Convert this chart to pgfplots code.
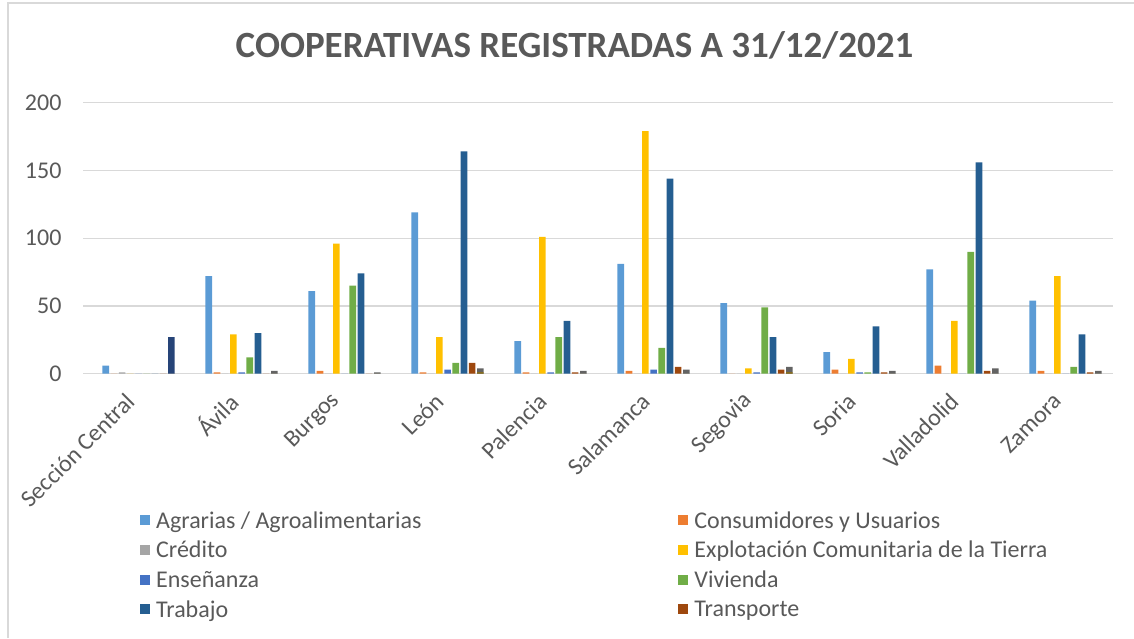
\documentclass[border=0pt]{standalone}
\usepackage{fontspec}
\setmainfont{Carlito}
\usepackage{pgfplots}
\pgfplotsset{compat=1.18}
\usepackage{pgfplotstable}

\definecolor{txt}{HTML}{595959}
\definecolor{gridc}{HTML}{D9D9D9}
\definecolor{framec}{HTML}{D9D9D9}
\definecolor{c0}{HTML}{5B9BD5}
\definecolor{c1}{HTML}{ED7D31}
\definecolor{c2}{HTML}{A5A5A5}
\definecolor{c3}{HTML}{FFC000}
\definecolor{c4}{HTML}{4472C4}
\definecolor{c5}{HTML}{70AD47}
\definecolor{c6}{HTML}{255E91}
\definecolor{c7}{HTML}{9E480E}
\definecolor{c8}{HTML}{636363}
\definecolor{c9}{HTML}{997300}
\definecolor{c10}{HTML}{264478}

\pgfplotstableread{
x ag cons cred expl ens viv trab trans sa sb sc
0 6 0 1 0 0 0 0 0 0 0 27
1 72 1 0 29 1 12 30 0 2 0 0
2 61 2 0 96 0 65 74 0 1 0 0
3 119 1 0 27 3 8 164 8 4 1 0
4 24 1 0 101 1 27 39 1 2 0 0
5 81 2 0 179 3 19 144 5 3 0 0
6 52 0 0 4 1 49 27 3 5 1 0
7 16 3 0 11 1 1 35 1 2 0 0
8 77 6 0 39 0 90 156 2 4 0 0
9 54 2 0 72 0 5 29 1 2 0 0
}\datatable

\pgfplotsset{sq/.style={legend image code/.code={\fill[##1] (0pt,-5pt) rectangle (10pt,5pt);}}}

\begin{document}
\begin{tikzpicture}
\path[use as bounding box] (0pt,0pt) rectangle (1134pt,638pt);
\draw[color=framec, line width=1.2pt] (8pt,0pt) -- (8pt,635pt) -- (1134pt,635pt);
\node[font=\fontsize{37}{44}\selectfont\bfseries, text=txt, anchor=base] at (574.5pt,580pt) {COOPERATIVAS REGISTRADAS A 31/12/2021};
\begin{axis}[
  at={(83pt,264.3pt)}, anchor=south west,
  scale only axis, width=1030pt, height=271pt,
  xmin=-0.5, xmax=9.5, ymin=0, ymax=200,
  ybar=1.6pt, bar width=6.6pt,
  axis lines*=left,
  x axis line style={draw=gridc, line width=1.5pt},
  y axis line style={draw=none},
  major tick length=0pt,
  ymajorgrids, grid style={draw=gridc, line width=1.2pt},
  ytick={0,50,100,150,200},
  xtick={0,...,9},
  xticklabels={Sección Central, Ávila, Burgos, León, Palencia, Salamanca, Segovia, Soria, Valladolid, Zamora},
  /pgf/number format/assume math mode=true,
  yticklabel style={font=\fontsize{24}{28}\selectfont, text=txt, xshift=-18pt},
  xticklabel style={font=\fontsize{24}{28}\selectfont, text=txt, rotate=45, anchor=east, yshift=-14pt, xshift=-16pt},
  legend columns=2,
  legend style={at={(0.0553,-0.50)}, anchor=north west, draw=none, fill=none,
    font=\fontsize{24}{28}\selectfont, text=txt, inner sep=0pt, row sep=7.5pt,
    nodes={inner sep=2pt},
    /tikz/every odd column/.append style={column sep=4pt},
    /tikz/every even column/.append style={column sep=255pt}},
  legend cell align=left,
]
\addplot[fill=c0, draw=none, sq] table[x=x,y=ag]{\datatable};
\addlegendentry{Agrarias / Agroalimentarias}
\addplot[fill=c1, draw=none, sq] table[x=x,y=cons]{\datatable};
\addlegendentry{Consumidores y Usuarios}
\addplot[fill=c2, draw=none, sq] table[x=x,y=cred]{\datatable};
\addlegendentry{Crédito}
\addplot[fill=c3, draw=none, sq] table[x=x,y=expl]{\datatable};
\addlegendentry{Explotación Comunitaria de la Tierra}
\addplot[fill=c4, draw=none, sq] table[x=x,y=ens]{\datatable};
\addlegendentry{Enseñanza}
\addplot[fill=c5, draw=none, sq] table[x=x,y=viv]{\datatable};
\addlegendentry{Vivienda}
\addplot[fill=c6, draw=none, sq] table[x=x,y=trab]{\datatable};
\addlegendentry{Trabajo}
\addplot[fill=c7, draw=none, sq] table[x=x,y=trans]{\datatable};
\addlegendentry{Transporte}
\addplot[fill=c8, draw=none, forget plot] table[x=x,y=sa]{\datatable};
\addplot[fill=c9, draw=none, forget plot] table[x=x,y=sb]{\datatable};
\addplot[fill=c10, draw=none, forget plot] table[x=x,y=sc]{\datatable};
\end{axis}
\end{tikzpicture}
\end{document}
